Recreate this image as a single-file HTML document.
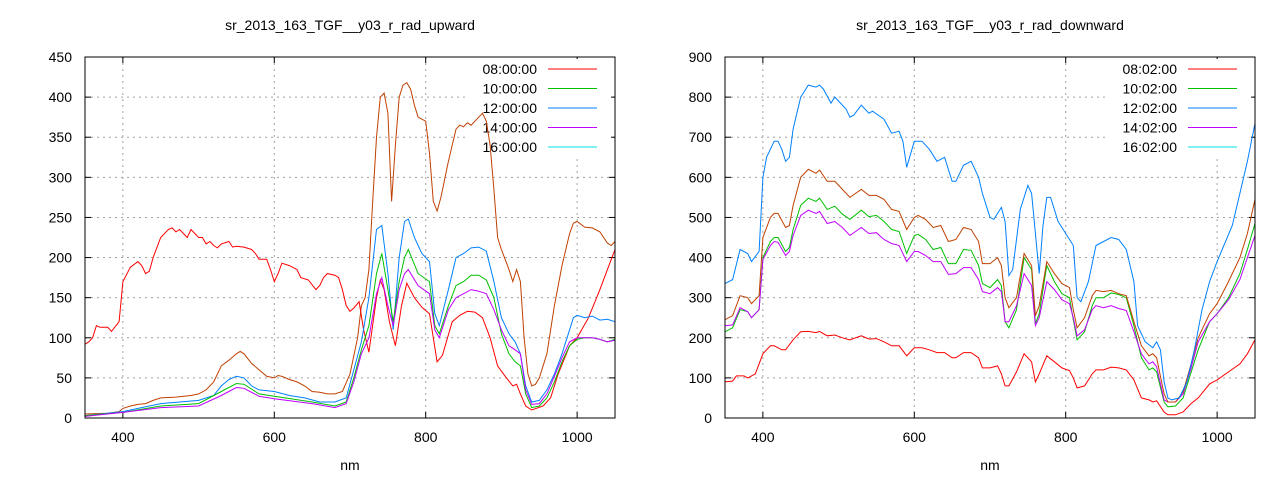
<!DOCTYPE html>
<html><head><meta charset="utf-8"><style>
html,body{margin:0;padding:0;background:#fff;}
svg{display:block;font-family:"Liberation Sans",Arial,sans-serif;font-size:14px;}
</style></head><body>
<svg id="s" width="1280" height="480" xmlns="http://www.w3.org/2000/svg"></svg>
<script>
const S=document.getElementById('s');let h='';
function P(a){const r=[];for(let i=0;i<a.length;i+=2)r.push([a[i],a[i+1]]);return r;}
const C={r:'#ff0000',g:'#00c000',b:'#0080ff',m:'#c000ff',o:'#c04000',c:'#00e0e0'};
function plot(x0,x1,y0,y1,ymax,ystep,title,times,series){
  const X=v=>x0+(v-350)/700*(x1-x0), Y=v=>y1-v/ymax*(y1-y0);
  h+=`<text x="${(x0+x1)/2}" y="30" text-anchor="middle">${title}</text>`;
  h+=`<text x="${(x0+x1)/2}" y="470" text-anchor="middle">nm</text>`;
  for(let v=0;v<=ymax;v+=ystep){const y=Y(v);
    if(v>0&&v<ymax)h+=`<line x1="${x0}" x2="${x1}" y1="${y}" y2="${y}" stroke="#a0a0a0" stroke-dasharray="2,4"/>`;
    h+=`<line x1="${x0}" x2="${x0+6}" y1="${y}" y2="${y}" stroke="#000"/><line x1="${x1}" x2="${x1-6}" y1="${y}" y2="${y}" stroke="#000"/>`;
    h+=`<text x="${x0-13}" y="${y+5}" text-anchor="end">${v}</text>`;}
  for(let v=400;v<=1000;v+=200){const x=X(v);
    h+=`<line x1="${x}" x2="${x}" y1="${y0}" y2="${y1}" stroke="#a0a0a0" stroke-dasharray="2,4"/>`;
    h+=`<line x1="${x}" x2="${x}" y1="${y1}" y2="${y1-6}" stroke="#000"/><line x1="${x}" x2="${x}" y1="${y0}" y2="${y0+6}" stroke="#000"/>`;
    h+=`<text x="${x}" y="442" text-anchor="middle">${v}</text>`;}
  h+=`<rect x="${x1-150}" y="${y0+2}" width="146" height="98" fill="#fff"/>`;
  const lc=['r','g','b','m','c'];
  times.forEach((t,i)=>{const y=y0+12+i*19.5;
    h+=`<text x="${x1-78}" y="${y+5}" text-anchor="end">${t}</text>`;
    h+=`<line x1="${x1-67}" x2="${x1-18}" y1="${y}" y2="${y}" stroke="${C[lc[i]]}" stroke-width="1"/>`;});
  for(const [c,d] of series){
    const pts=P(d).map(p=>X(p[0]).toFixed(1)+','+Y(p[1]).toFixed(1)).join(' ');
    h+=`<polyline points="${pts}" fill="none" stroke="${C[c]}" stroke-width="1"/>`;}
  h+=`<rect x="${x0}" y="${y0}" width="${x1-x0}" height="${y1-y0}" fill="none" stroke="#000"/>`;
}
const L=[
['o',[350,5,380,6,395,8,400,12,410,15,420,17,430,18,440,22,450,25,470,26,490,28,500,30,510,35,520,45,530,65,540,72,550,80,555,83,560,80,570,68,580,60,590,52,600,50,605,53,610,52,620,48,630,45,640,40,650,33,660,32,670,30,680,30,690,33,700,55,710,100,715,140,720,150,725,185,730,270,735,350,740,400,745,405,750,380,755,270,760,340,765,400,770,415,775,418,780,410,785,390,790,375,800,370,805,330,810,270,815,258,820,275,830,320,840,360,845,365,850,363,855,368,860,365,870,375,875,380,880,370,885,340,890,285,895,225,900,210,910,185,915,170,920,185,925,170,930,100,935,55,940,40,945,42,950,50,960,80,970,140,980,190,990,230,995,243,1000,245,1010,238,1020,237,1030,232,1040,218,1045,215,1050,220]],
['r',[350,92,355,95,360,100,365,115,370,113,380,113,385,108,395,120,400,170,410,188,420,195,425,190,430,180,435,183,440,200,450,225,460,235,465,237,470,232,475,235,480,230,485,225,490,235,495,230,500,225,505,225,510,217,515,220,520,215,525,212,530,217,540,220,545,213,550,214,560,213,570,210,575,205,580,198,590,198,595,185,600,170,605,180,610,193,620,190,630,185,635,175,645,172,655,160,660,165,665,175,670,180,680,178,685,175,690,160,695,140,700,133,705,137,712,145,718,110,725,82,735,150,740,172,745,160,752,120,760,90,768,140,775,168,785,150,795,138,805,130,810,100,815,70,822,78,835,120,845,128,855,133,865,132,875,125,885,100,895,65,905,52,915,40,920,42,925,30,932,15,940,10,955,15,965,25,975,55,990,90,1000,100,1015,125,1030,160,1040,185,1050,210]],
['b',[350,3,400,8,420,12,450,18,500,22,520,28,530,40,540,48,550,52,560,50,570,40,580,35,600,33,620,28,640,25,660,20,680,20,695,25,705,60,715,95,725,150,735,235,742,240,750,180,757,110,765,200,772,245,777,248,785,225,795,205,805,195,812,130,818,115,830,160,840,200,850,205,860,212,870,213,880,208,890,170,900,125,910,105,918,95,925,80,932,40,940,20,950,22,960,35,970,55,980,80,990,110,995,125,1000,128,1010,125,1020,127,1030,122,1040,123,1050,120]],
['g',[350,3,400,7,450,15,500,18,530,33,550,43,560,42,580,30,600,27,650,20,680,15,695,20,705,50,715,85,725,115,735,180,742,205,750,160,757,120,765,170,772,200,777,210,790,180,805,170,812,115,818,105,830,140,840,165,850,170,860,178,870,178,880,172,890,150,900,105,910,80,918,70,925,65,932,30,940,13,950,15,960,25,970,45,980,70,990,90,1000,98,1010,100,1020,100,1030,98,1040,95,1050,98]],
['m',[350,2,400,7,450,13,500,15,530,28,550,38,560,37,580,27,600,24,650,18,680,13,695,18,705,45,715,80,725,100,735,155,742,175,750,140,757,115,765,160,772,180,777,185,790,165,805,155,812,110,818,100,830,135,840,150,850,155,860,160,870,158,880,155,890,135,900,110,910,90,918,85,925,80,932,35,940,17,950,18,960,30,970,52,980,75,990,95,1000,100,1010,100,1020,100,1030,98,1040,95,1050,97]]
];
const R=[
['r',[350,90,360,92,365,105,375,105,380,100,390,110,400,160,410,180,415,180,425,170,430,170,440,195,450,215,460,216,470,213,475,216,485,205,495,207,505,200,515,195,530,205,540,197,550,198,560,190,570,180,580,180,590,155,600,175,610,175,620,170,630,163,640,163,650,150,655,150,665,163,675,163,685,150,690,125,700,125,710,130,715,110,720,80,725,80,735,115,745,160,755,140,760,90,765,110,775,155,785,140,795,125,805,118,810,100,815,75,825,80,835,110,840,120,850,120,860,127,870,125,880,120,890,95,900,50,910,45,915,40,920,43,930,15,935,8,945,8,955,15,965,35,975,50,990,85,1000,95,1015,115,1030,135,1040,160,1050,195]],
['g',[350,215,360,225,370,270,380,265,385,250,395,270,400,400,410,440,415,450,420,450,430,415,435,425,440,470,450,530,460,548,470,540,475,548,485,520,495,528,505,508,515,495,530,518,540,502,550,505,560,490,570,470,580,465,590,410,600,455,605,458,615,445,625,420,635,425,645,385,655,385,665,420,675,418,685,380,690,335,700,325,710,345,715,330,720,240,725,225,735,270,745,400,755,370,760,235,765,260,775,380,785,340,795,310,805,300,810,245,815,195,825,215,835,280,840,300,850,300,860,312,870,308,880,300,890,230,900,150,910,120,915,125,920,115,930,40,935,28,945,30,955,50,965,110,975,170,990,240,1000,260,1015,300,1030,360,1040,420,1050,485]],
['m',[350,230,360,232,370,275,380,265,385,250,395,270,400,395,410,430,415,440,420,438,430,405,435,415,440,455,450,505,460,518,470,510,475,515,485,485,495,490,505,475,515,455,530,475,540,460,550,462,560,445,570,435,580,430,590,390,600,415,605,415,615,405,625,390,635,390,645,358,655,360,665,375,675,375,685,345,690,315,700,310,710,325,715,315,720,240,725,240,735,280,745,360,755,330,760,230,765,250,775,340,785,320,795,295,805,285,810,250,815,205,825,220,835,270,840,280,850,275,860,280,870,273,880,268,890,215,900,160,910,135,915,140,920,128,930,45,935,40,945,40,955,60,965,120,975,190,990,240,1000,260,1015,295,1030,345,1040,400,1050,455]],
['o',[350,245,360,255,370,305,380,300,385,285,395,305,400,450,410,500,415,510,420,510,430,475,435,480,440,530,450,600,460,620,470,610,475,618,485,590,495,590,505,570,515,550,530,570,540,555,550,555,560,545,570,520,580,515,590,470,600,500,605,505,615,495,625,475,635,480,645,440,655,445,665,475,675,470,685,440,690,385,700,385,710,400,715,380,720,300,725,275,735,300,745,410,755,380,760,255,765,280,775,390,785,360,795,335,805,325,810,270,815,225,825,250,835,305,840,318,850,315,860,318,870,310,880,305,890,240,900,180,910,155,915,160,920,150,930,60,935,40,945,40,955,65,965,130,975,200,990,260,1000,285,1015,340,1030,400,1040,460,1050,545]],
['b',[350,335,360,345,370,420,380,410,385,390,395,415,400,600,405,650,415,690,420,690,425,670,430,640,435,650,440,720,450,800,460,830,470,825,475,830,480,820,490,785,495,800,500,790,510,770,515,750,520,755,530,780,540,760,545,765,560,745,570,710,580,715,585,690,590,625,600,690,610,690,620,670,630,640,640,650,650,590,655,590,665,630,675,640,685,600,690,560,700,500,705,495,715,525,720,490,725,355,730,370,740,520,750,580,755,560,765,360,770,480,775,550,780,550,790,490,800,460,810,430,815,300,820,290,830,340,840,430,850,440,860,450,870,445,880,420,890,340,895,230,905,190,915,175,920,190,925,170,930,90,935,50,940,45,950,50,960,90,970,170,980,270,990,340,1000,390,1020,480,1030,560,1040,640,1050,735]]
];
plot(85,615,57,418,450,50,'sr_2013_163_TGF__y03_r_rad_upward',['08:00:00','10:00:00','12:00:00','14:00:00','16:00:00'],L);
plot(725,1255,57,418,900,100,'sr_2013_163_TGF__y03_r_rad_downward',['08:02:00','10:02:00','12:02:00','14:02:00','16:02:00'],R);
S.innerHTML=h;
</script>
</body></html>
